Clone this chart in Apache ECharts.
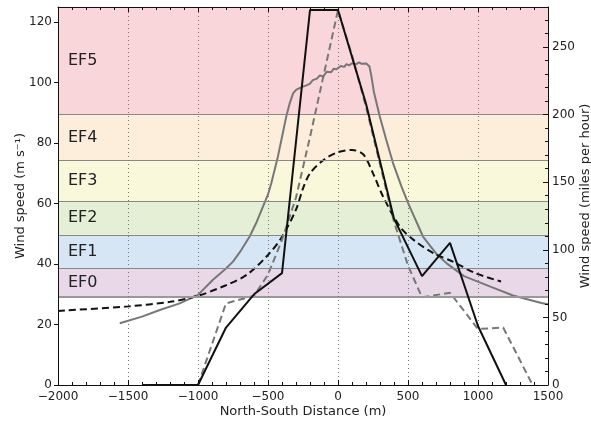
<!DOCTYPE html>
<html>
<head>
<meta charset="utf-8">
<script src="https://cdn.jsdelivr.net/npm/echarts@6/dist/echarts.min.js"></script>
<style>
  html, body { margin: 0; padding: 0; background: #fff; }
  #chart { width: 591px; height: 421px; }
</style>
</head>
<body>
<div id="chart"></div>
<script>
const MPH = 0.44704; // m/s per mph

// EF scale bands (lower bound in mph)
const efNames = ['EF0', 'EF1', 'EF2', 'EF3', 'EF4', 'EF5'];
const efLowMph = [65, 86, 111, 136, 166, 200];
const efColors = ['#e8d8e8', '#d7e6f5', '#e5efd6', '#f9f8db', '#fdeedb', '#f9d6da'];

const gridLinesX = [-1500, -1000, -500, 0, 500, 1000];

// solid black
const solidBlackX = [-1400, -1000, -800, -600, -400, -200, 0, 200, 400, 600, 800, 1000, 1200];
const solidBlackY = [0, 0, 19, 30, 37, 124, 124, 93, 55, 36, 47, 19.5, 0];

// dashed grey
const dashGreyX = [-1000, -800, -600, -500, -400, -300, -200, -100, 0, 100, 200, 300, 400, 500, 600, 800, 1000, 1180, 1390];
const dashGreyY = [0, 27, 29.5, 36.5, 48, 62, 82, 103, 124, 109, 92, 73, 54, 39.5, 29, 30.5, 18.5, 19, 0];

// dashed black
const dashBlackX = [-2000, -1500, -1200, -1000, -800, -650, -500, -400, -300, -250, -200, -100, 0, 100, 180, 250, 320, 440, 540, 680, 820, 980, 1165];
const dashBlackY = [24.5, 26, 27.5, 29.5, 33, 36.5, 43, 49, 58, 65, 70, 74.5, 77, 77.7, 76.3, 70, 62.5, 52.5, 48, 43.6, 40.8, 37, 34.2];

// solid grey
const solidGreyX = [-1559, -1400, -1273, -1130, -1000, -893, -800, -750, -700, -631, -580, -536, -500, -476, -429, -400, -369, -344, -320, -297, -260, -230, -202, -180, -150, -130, -107, -80, -50, -30, -11, 20, 45, 60, 80, 100, 131, 150, 170, 202, 225, 239, 256, 274, 298, 345, 393, 453, 500, 607, 700, 774, 900, 1084, 1250, 1453, 1500];
const solidGreyY = [20.4, 22.6, 24.8, 27, 29.8, 34.8, 38.5, 40.8, 44, 49.1, 54, 59, 63, 66.8, 75.6, 82, 88.9, 93.3, 96.5, 97.7, 98.5, 99, 99.6, 100.8, 101.3, 102.4, 102, 103.6, 103.4, 104.6, 104.4, 105.5, 105.2, 106.1, 105.7, 106.4, 106.1, 106.7, 106.2, 106.3, 105.3, 102, 97, 93.5, 88.9, 81, 73.4, 65.7, 60.2, 49.1, 43.5, 40.3, 36, 32.6, 29.6, 27.1, 26.7];

const yMax = 125;
const pairs = (xs, ys) => xs.map((x, i) => [x, ys[i]]);
const fmtNeg = v => (v < 0 ? '\u2212' + Math.abs(v) : String(v));

const efLow = efLowMph.map(v => v * MPH);
const efHigh = efLow.slice(1).concat([yMax]);

const font = 'DejaVu Sans';
const textColor = '#222';
const axisLine = { show: true, onZero: false, lineStyle: { color: '#111', width: 1 } };
const tick = { inside: true, length: 5, lineStyle: { color: '#111' } };
const minor = { show: true, splitNumber: 5, length: 3, lineStyle: { color: '#111' } };
const nameStyle = { fontSize: 13, color: textColor, fontFamily: font };

const chart = echarts.init(document.getElementById('chart'));

chart.setOption({
    animation: false,
    textStyle: { fontFamily: font },
    grid: { left: 58, right: 43, top: 7, bottom: 36, containLabel: false, outerBoundsMode: 'none' },
    xAxis: [{
        type: 'value',
        min: -2000,
        max: 1500,
        interval: 500,
        z: 10,
        name: 'North-South Distance (m)',
        nameLocation: 'middle',
        nameGap: 20,
        nameMoveOverlap: false,
        nameTextStyle: nameStyle,
        axisLine: axisLine,
        axisTick: tick,
        minorTick: minor,
        axisLabel: { fontSize: 12, color: textColor, margin: 6, formatter: fmtNeg },
        splitLine: { show: false }
    }, {
        type: 'value',
        position: 'top',
        min: -2000,
        max: 1500,
        interval: 500,
        z: 10,
        axisLine: axisLine,
        axisTick: tick,
        minorTick: minor,
        axisLabel: { show: false },
        splitLine: { show: false }
    }],
    yAxis: [{
        type: 'value',
        min: 0,
        max: yMax,
        interval: 20,
        z: 10,
        name: 'Wind speed (m s\u207b\u00b9)',
        nameLocation: 'middle',
        nameGap: 31,
        nameMoveOverlap: false,
        nameTextStyle: nameStyle,
        axisLine: axisLine,
        axisTick: { inside: false, length: 4, lineStyle: { color: '#111' } },
        axisLabel: { fontSize: 12, color: textColor, margin: 6, showMaxLabel: false },
        splitLine: { show: false }
    }, {
        type: 'value',
        position: 'right',
        min: 0,
        max: yMax / MPH,
        interval: 50,
        z: 10,
        name: 'Wind speed (miles per hour)',
        nameLocation: 'middle',
        nameGap: 31,
        nameRotate: 90,
        nameMoveOverlap: false,
        nameTextStyle: nameStyle,
        axisLine: axisLine,
        axisTick: tick,
        minorTick: minor,
        axisLabel: { fontSize: 12, color: textColor, margin: 4, showMaxLabel: false },
        splitLine: { show: false }
    }],
    series: [{
        // EF bands, their borders and the dotted verticals
        type: 'line',
        data: [],
        z: 1,
        silent: true,
        markArea: {
            silent: true,
            data: efNames.map((name, i) => [{
                name: name,
                yAxis: efLow[i],
                itemStyle: { color: efColors[i] }
            }, { yAxis: efHigh[i] }]),
            label: {
                show: true,
                position: 'insideLeft',
                distance: 10,
                fontSize: 16,
                color: textColor,
                fontFamily: font
            }
        },
        markLine: {
            silent: true,
            symbol: 'none',
            label: { show: false },
            data: efLow.map((v, i) => ({
                yAxis: v,
                lineStyle: { color: i === 0 ? '#999' : '#888', width: i === 0 ? 2 : 1, type: 'solid' }
            })).concat(gridLinesX.map(x => ({
                xAxis: x,
                lineStyle: { color: '#777', width: 1, type: [1, 3] }
            })))
        }
    }, {
        type: 'line',
        data: pairs(solidGreyX, solidGreyY),
        showSymbol: false,
        z: 3,
        lineStyle: { color: '#777', width: 2 }
    }, {
        type: 'line',
        data: pairs(dashBlackX, dashBlackY),
        showSymbol: false,
        smooth: 0.3,
        z: 4,
        lineStyle: { color: '#111', width: 2, type: [7, 4] }
    }, {
        type: 'line',
        data: pairs(dashGreyX, dashGreyY),
        showSymbol: false,
        z: 4,
        lineStyle: { color: '#777', width: 2, type: [7, 4] }
    }, {
        type: 'line',
        data: pairs(solidBlackX, solidBlackY),
        showSymbol: false,
        z: 5,
        lineStyle: { color: '#111', width: 2 }
    }]
});
</script>
</body>
</html>
